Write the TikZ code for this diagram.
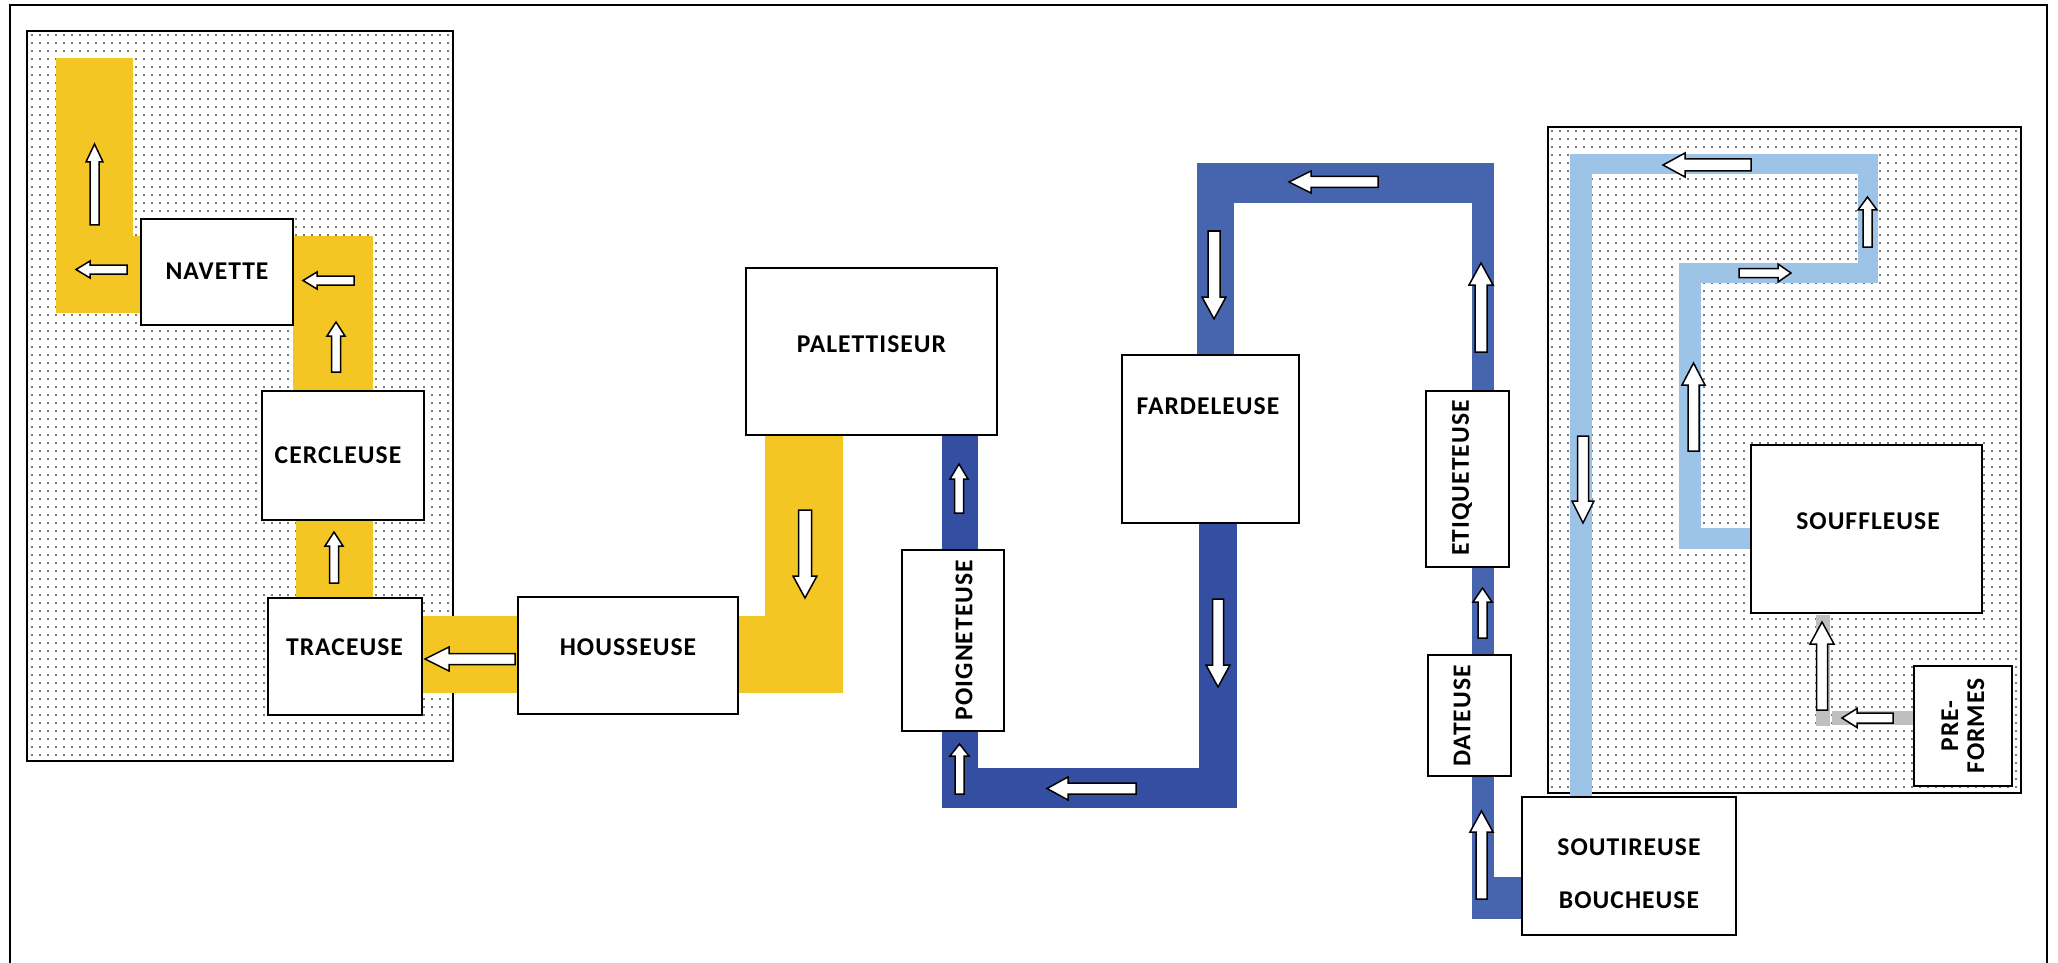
\documentclass[tikz,border=0pt]{standalone}
\usepackage{fontspec}
\setmainfont{Carlito}[LetterSpace=4]
\usetikzlibrary{patterns,fit}
\pgfdeclarepatternformonly{mydots}{\pgfqpoint{-1pt}{-1pt}}{\pgfqpoint{1pt}{1pt}}{\pgfqpoint{4pt}{4pt}}{\pgfpathcircle{\pgfqpoint{0pt}{0pt}}{0.55pt}\pgfusepath{fill}}
\definecolor{ybelt}{RGB}{244,198,36}
\definecolor{dbelt}{RGB}{52,79,161}
\definecolor{mbelt}{RGB}{71,101,174}
\definecolor{lbelt}{RGB}{157,195,230}
\definecolor{gbelt}{RGB}{191,191,191}
% tip x, tip y, direction angle, length, shaft width, head width, head length
\newcommand\blkarrow[7]{\draw[arrst,shift={(#1,#2)},rotate=#3] (0,0) -- (-#7,#6/2) -- (-#7,#5/2) -- (-#4,#5/2) -- (-#4,-#5/2) -- (-#7,-#5/2) -- (-#7,-#6/2) -- cycle;}
\begin{document}
\begin{tikzpicture}[x=0.5pt,y=-0.5pt,
  box/.style={draw=black,line width=1pt,fill=white,inner sep=0pt,outer sep=0pt},
  lbl/.style={font=\fontsize{12.8}{13}\selectfont\bfseries,inner sep=0pt,align=center},
  arrst/.style={draw=black,fill=white,line width=0.75pt,line join=miter},
  panel/.style={pattern=mydots,pattern color=black!70},
  panelborder/.style={draw=black,line width=1pt}]
\useasboundingbox (0,0) rectangle (2058,963);
% outer frame (no bottom line)
\draw[line width=1.2pt] (10,963) -- (10,5) -- (2047,5) -- (2047,963);
% dotted zones
\path[panel] (27,31) rectangle (453,761);
\draw[panelborder] (27,31) rectangle (453,761);
\path[panel] (1548,127) rectangle (2021,793);
\draw[panelborder] (1548,127) rectangle (2021,793);
% yellow belts
\fill[ybelt] (56,58) rectangle (133,313);
\fill[ybelt] (56,236) rectangle (141,313);
\fill[ybelt] (293,236) rectangle (373,391);
\fill[ybelt] (296,520) rectangle (373,600);
\fill[ybelt] (422,616) rectangle (518,693);
\fill[ybelt] (738,616) rectangle (843,693);
\fill[ybelt] (765,435) rectangle (843,693);
% dark blue belts
\fill[dbelt] (942,435) rectangle (978,550);
\fill[dbelt] (942,731) rectangle (978,808);
\fill[dbelt] (942,768) rectangle (1237,808);
\fill[dbelt] (1199,523) rectangle (1237,808);
% mid blue belts
\fill[mbelt] (1197,163) rectangle (1234,355);
\fill[mbelt] (1197,163) rectangle (1494,203);
\fill[mbelt] (1472,163) rectangle (1494,391);
\fill[mbelt] (1472,567) rectangle (1494,655);
\fill[mbelt] (1472,776) rectangle (1494,919);
\fill[mbelt] (1494,877) rectangle (1522,919);
% light blue belts
\fill[lbelt] (1570,154) rectangle (1592,797);
\fill[lbelt] (1570,154) rectangle (1878,174);
\fill[lbelt] (1858,154) rectangle (1878,283);
\fill[lbelt] (1679,263) rectangle (1878,283);
\fill[lbelt] (1679,263) rectangle (1701,549);
\fill[lbelt] (1679,528) rectangle (1751,549);
% grey belts
\fill[gbelt] (1816,615) rectangle (1830,726);
\fill[gbelt] (1832,711) rectangle (1914,725);
% machines
\node[box,fit={(141,219) (293,325)}] (navette) {};
\node[box,fit={(262,391) (424,520)}] (cercleuse) {};
\node[box,fit={(268,598) (422,715)}] (traceuse) {};
\node[box,fit={(518,597) (738,714)}] (housseuse) {};
\node[box,fit={(746,268) (997,435)}] (palettiseur) {};
\node[box,fit={(902,550) (1004,731)}] (poigneteuse) {};
\node[box,fit={(1122,355) (1299,523)}] (fardeleuse) {};
\node[box,fit={(1426,391) (1509,567)}] (etiqueteuse) {};
\node[box,fit={(1428,655) (1511,776)}] (dateuse) {};
\node[box,fit={(1522,797) (1736,935)}] (soutireuse) {};
\node[box,fit={(1751,445) (1982,613)}] (souffleuse) {};
\node[box,fit={(1914,666) (2012,786)}] (preformes) {};
% labels
\node[lbl] (navette-l) at (217,271) {NAVETTE};
\node[lbl] (cercleuse-l) at (338,455) {CERCLEUSE};
\node[lbl] (traceuse-l) at (344.5,647) {TRACEUSE};
\node[lbl] (housseuse-l) at (628,647) {HOUSSEUSE};
\node[lbl] (palettiseur-l) at (871.5,344) {PALETTISEUR};
\node[lbl,rotate=90] (poigneteuse-l) at (964,640) {POIGNETEUSE};
\node[lbl] (fardeleuse-l) at (1208,406) {FARDELEUSE};
\node[lbl,rotate=90] (etiqueteuse-l) at (1462,478) {ETIQUETEUSE};
\node[lbl,rotate=90] (dateuse-l) at (1462,716) {DATEUSE};
\node[lbl] (soutireuse-l) at (1629,847) {SOUTIREUSE};
\node[lbl] (boucheuse-l) at (1629,900) {BOUCHEUSE};
\node[lbl] (souffleuse-l) at (1868,521) {SOUFFLEUSE};
\node[lbl,rotate=90] (preformes-l) at (1963,726) {PRE-\\FORMES};
% flow arrows
\blkarrow{94.5}{144}{90}{81}{9}{17}{18}
\blkarrow{76}{269.5}{180}{51}{9}{17}{14}
\blkarrow{303}{280.5}{180}{51}{9}{17}{14}
\blkarrow{336}{322}{90}{50}{9}{18}{14}
\blkarrow{334}{532}{90}{51}{9}{18}{14}
\blkarrow{425}{659}{180}{90}{11}{24}{24}
\blkarrow{805}{598}{-90}{88}{13}{24}{22}
\blkarrow{959}{464}{90}{49}{9}{18}{15}
\blkarrow{959.5}{744}{90}{50}{9}{19}{12}
\blkarrow{1047}{788.5}{180}{89}{11}{23}{21}
\blkarrow{1218}{687}{-90}{88}{11}{24}{22}
\blkarrow{1214}{319}{-90}{88}{12}{24}{22}
\blkarrow{1289}{182}{180}{89}{11}{22}{22}
\blkarrow{1481}{263}{90}{89}{12}{24}{22}
\blkarrow{1482.5}{588}{90}{50}{9}{19}{14}
\blkarrow{1481.5}{811}{90}{88}{11}{23}{21}
\blkarrow{1663}{165}{180}{88}{12}{24}{22}
\blkarrow{1867.5}{197}{90}{50}{9}{19}{13}
\blkarrow{1791}{273}{0}{52}{9}{18}{13}
\blkarrow{1693.5}{363}{90}{88}{11}{23}{22}
\blkarrow{1583}{523}{-90}{87}{11}{22}{22}
\blkarrow{1822}{622}{90}{88}{11}{24}{22}
\blkarrow{1842}{718}{180}{51}{10}{19}{15}
\end{tikzpicture}
\end{document}
